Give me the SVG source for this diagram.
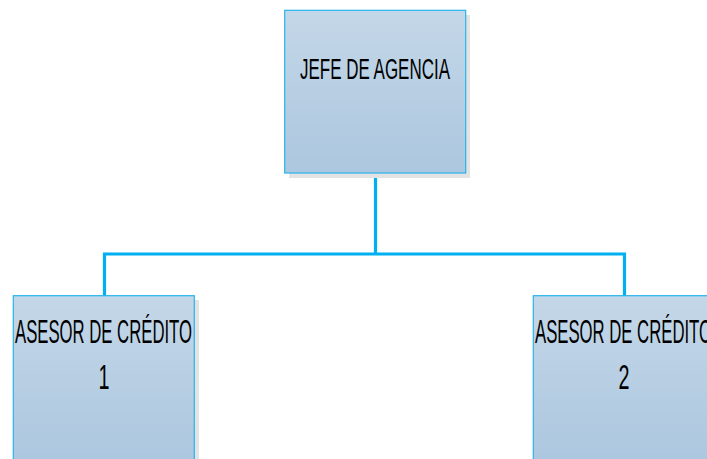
<svg xmlns="http://www.w3.org/2000/svg" width="707" height="459" viewBox="0 0 707 459">
<defs>
<linearGradient id="g" x1="0" y1="0" x2="0" y2="1">
<stop offset="0" stop-color="#C4D7E8"/>
<stop offset="1" stop-color="#ACC7DF"/>
</linearGradient>
<style>
.box{fill:url(#g);stroke:#26B4EC;stroke-width:1.2}
.sh{fill:#E3E3E3}
.t{font-family:"Liberation Sans",Arial,sans-serif;fill:#000;text-anchor:middle}
.c{fill:none;stroke:#00B0F0;stroke-width:3.2}
</style>
</defs>
<g id="connectors">
<path class="c" d="M375.5 173 V254 M104.5 296 V254 H624.5 V296"/>
</g>
<g id="jefe">
<rect class="sh" x="289" y="15" width="181" height="163"/>
<rect class="box" x="284.7" y="10.3" width="181" height="162.7"/>
<text class="t" x="375" y="79.3" font-size="29.5" textLength="150" lengthAdjust="spacingAndGlyphs">JEFE DE AGENCIA</text>
</g>
<g id="asesor1">
<rect class="sh" x="18" y="300" width="181" height="163"/>
<rect class="box" x="13.3" y="295.7" width="181" height="165"/>
<text class="t" x="103.5" y="343.3" font-size="33.5" textLength="177" lengthAdjust="spacingAndGlyphs">ASESOR DE CRÉDITO</text>
<text class="t" x="104" y="389.3" font-size="34.5" textLength="11" lengthAdjust="spacingAndGlyphs">1</text>
</g>
<g id="asesor2">
<rect class="sh" x="538" y="300" width="181" height="163"/>
<rect class="box" x="533.3" y="295.7" width="181" height="165"/>
<text class="t" x="623.5" y="343.3" font-size="33.5" textLength="177" lengthAdjust="spacingAndGlyphs">ASESOR DE CRÉDITO</text>
<text class="t" x="624" y="389.3" font-size="34.5" textLength="11" lengthAdjust="spacingAndGlyphs">2</text>
</g>
</svg>
